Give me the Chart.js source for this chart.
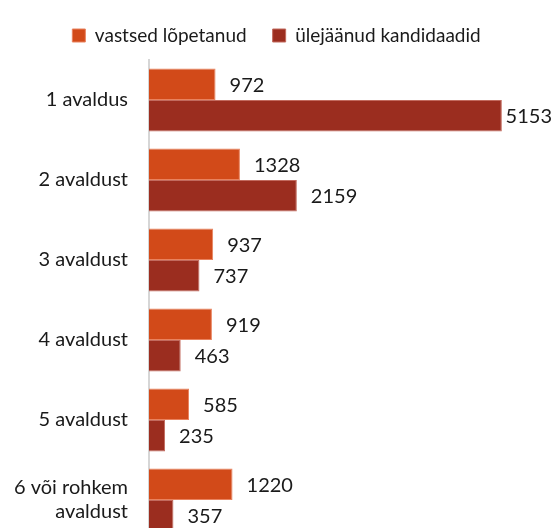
<!DOCTYPE html>
<html>
<head>
<meta charset="utf-8">
<script src="https://cdn.jsdelivr.net/npm/chart.js@4.4.1/dist/chart.umd.min.js"></script>
<style>
  html, body { margin: 0; padding: 0; background: #fff; overflow: hidden; }
  canvas { display: block; }
</style>
</head>
<body>
<canvas id="chart" width="553" height="540"></canvas>
<script>
// categories and series
const categories = ['1 avaldus', '2 avaldust', '3 avaldust', '4 avaldust', '5 avaldust', ['6 või rohkem', 'avaldust']];
const seriesNames = ['vastsed lõpetanud', 'ülejäänud kandidaadid'];
const freshGrads = [972, 1328, 937, 919, 585, 1220];
const otherCandidates = [5153, 2159, 737, 463, 235, 357];

const FONT = 'Lato, "Open Sans", sans-serif';

// value labels next to each bar end
const valueLabels = {
    id: 'valueLabels',
    afterDatasetsDraw(chart) {
        const ctx = chart.ctx;
        ctx.save();
        ctx.font = '20px ' + FONT;
        ctx.fillStyle = '#1a1a1a';
        ctx.textBaseline = 'middle';
        ctx.textAlign = 'left';
        chart.data.datasets.forEach((ds, i) => {
            chart.getDatasetMeta(i).data.forEach((bar, j) => {
                const txt = String(ds.data[j]);
                const w = ctx.measureText(txt).width;
                let x = bar.x + 14;
                if (x + w > chart.width - 1) x = chart.width - 1 - w;
                ctx.fillText(txt, x, bar.y + 1);
            });
        });
        ctx.restore();
    }
};

// push the plot down below the legend
const legendSpace = {
    id: 'legendSpace',
    beforeInit(chart) {
        const fit = chart.legend.fit;
        chart.legend.fit = function () {
            fit.bind(chart.legend)();
            this.height = 60;
        };
    }
};

new Chart(document.getElementById('chart'), {
    type: 'bar',
    data: {
        labels: categories,
        datasets: [{
            label: seriesNames[0],
            data: freshGrads,
            backgroundColor: '#D24A19',
            borderColor: '#E9825E',
            borderWidth: 1,
            categoryPercentage: 0.79,
            barPercentage: 1.0
        }, {
            label: seriesNames[1],
            data: otherCandidates,
            backgroundColor: '#9B2D1F',
            borderColor: '#C26A5E',
            borderWidth: 1,
            categoryPercentage: 0.79,
            barPercentage: 1.0
        }]
    },
    options: {
        indexAxis: 'y',
        responsive: false,
        animation: false,
        layout: { padding: 0 },
        scales: {
            x: {
                display: false,
                min: 0,
                max: 5900
            },
            y: {
                grid: { display: false, drawTicks: false },
                border: { display: true, color: '#d6d6d6', width: 2 },
                ticks: {
                    color: '#1a1a1a',
                    font: { family: FONT, size: 20 },
                    padding: 21
                },
                afterFit(scale) {
                    scale.width = 149;
                    scale.paddingTop = 0;
                    scale.paddingBottom = 0;
                }
            }
        },
        plugins: {
            legend: {
                position: 'top',
                labels: {
                    boxWidth: 13,
                    boxHeight: 13,
                    color: '#1a1a1a',
                    font: { family: FONT, size: 19 },
                    padding: 26
                }
            },
            tooltip: { enabled: false }
        }
    },
    plugins: [valueLabels, legendSpace]
});
</script>
</body>
</html>
